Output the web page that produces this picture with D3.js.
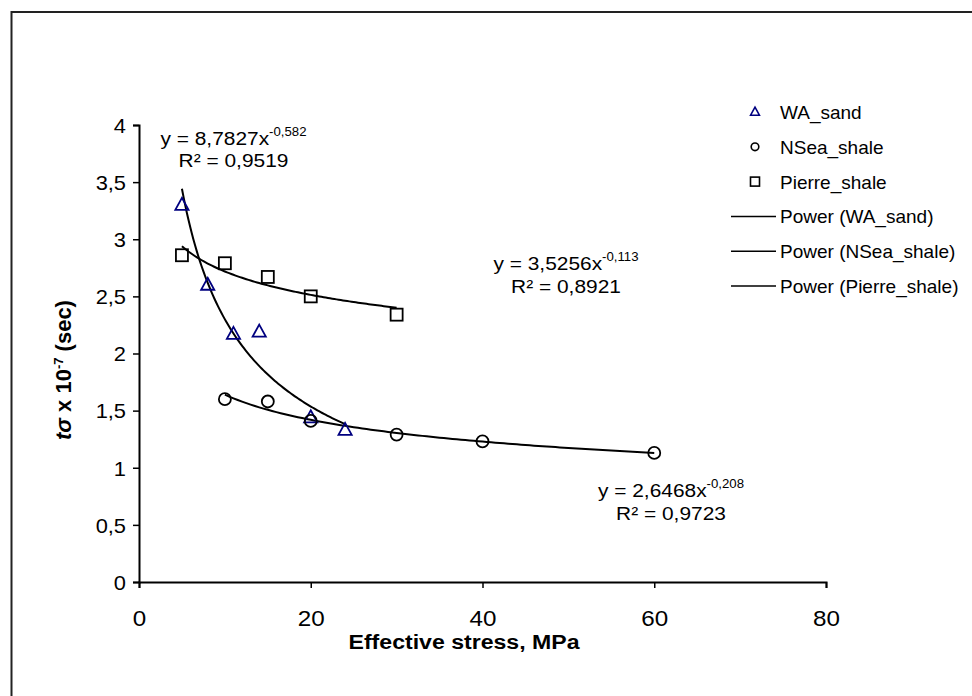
<!DOCTYPE html>
<html><head><meta charset="utf-8">
<script src="https://cdn.jsdelivr.net/npm/d3@7"></script>
<style>html,body{margin:0;padding:0;background:#fff;} svg{display:block;font-family:"Liberation Sans",Arial,sans-serif;}</style>
</head><body>
<svg id="chart" width="972" height="696"></svg>
<script>
// ---- data ----
const seriesNames = ["WA_sand", "NSea_shale", "Pierre_shale"];
const waX = [5, 8, 11, 14, 20, 24];
const waY = [3.30, 2.60, 2.17, 2.19, 1.44, 1.33];
const nseaX = [10, 15, 20, 30, 40, 60];
const nseaY = [1.60, 1.58, 1.41, 1.29, 1.23, 1.13];
const pierreX = [5, 10, 15, 20, 30];
const pierreY = [2.86, 2.79, 2.67, 2.50, 2.34];
// power trendlines y = a * x^b (as printed on the chart)
const fitA = [8.7827, 2.6468, 3.5256];
const fitB = [-0.582, -0.208, -0.113];
const fitAText = ["8,7827", "2,6468", "3,5256"];
const fitBText = ["-0,582", "-0,208", "-0,113"];
const fitR2Text = ["0,9519", "0,9723", "0,8921"];
const xTicks = [0, 20, 40, 60, 80];
const yTicks = [0, 0.5, 1, 1.5, 2, 2.5, 3, 3.5, 4];
const legendLabels = ["WA_sand", "NSea_shale", "Pierre_shale", "Power (WA_sand)", "Power (NSea_shale)", "Power (Pierre_shale)"];

// ---- drawing ----
const svg = d3.select("#chart");
const SX = 1.1; // horizontal text stretch of the original
const x = d3.scaleLinear().domain([0, 80]).range([139, 826]);
const y = d3.scaleLinear().domain([0, 4]).range([582, 125]);

// outer frame
svg.append("rect").attr("x", 11.5).attr("y", 12).attr("width", 1000).attr("height", 760)
  .attr("fill", "none").attr("stroke", "#222").attr("stroke-width", 2);

const fmt = d => String(d).replace(".", ",");

const gx = svg.append("g").attr("transform", `translate(0,${y(0)})`)
  .call(d3.axisBottom(x).tickValues(xTicks).tickFormat(fmt).tickSize(6).tickPadding(6));
const gy = svg.append("g").attr("transform", `translate(${x(0)},0)`)
  .call(d3.axisLeft(y).tickValues(yTicks).tickFormat(fmt).tickSize(6).tickPadding(4));
[gx, gy].forEach(g => {
  g.select(".domain").attr("stroke", "#000").attr("stroke-width", 2);
  g.selectAll(".tick line").attr("stroke", "#000").attr("stroke-width", 1.5);
  g.selectAll(".tick text").attr("fill", "#000").style("font-size", "22px")
    .style("font-family", '"Liberation Sans",Arial,sans-serif');
});
gx.selectAll(".tick text").attr("dy", null).attr("y", 44).attr("transform", `scale(${SX},1)`)
  .attr("x", 0);
gy.selectAll(".tick text").style("font-size", "21px").attr("transform", "scale(1.04,1)")
  .attr("x", -13 / 1.04).attr("dy", "0.35em");

// axis titles
svg.append("text").attr("transform", `translate(464,649) scale(${SX},1)`).attr("text-anchor", "middle")
  .style("font-size", "21px").style("font-weight", "bold").text("Effective stress, MPa");
const yl = svg.append("text").attr("transform", "translate(71,370) rotate(-90)").attr("text-anchor", "middle")
  .style("font-size", "22px").style("font-weight", "bold");
yl.append("tspan").style("font-style", "italic").text("tσ");
yl.append("tspan").text(" x 10");
yl.append("tspan").attr("dy", -8).style("font-size", "13px").text("-7");
yl.append("tspan").attr("dy", 8).text(" (sec)");

// trendlines
const allX = [waX, nseaX, pierreX];
const line = d3.line().x(d => x(d[0])).y(d => y(d[1]));
allX.forEach((xs, i) => {
  const [lo, hi] = d3.extent(xs);
  const pts = d3.range(0, 101).map(k => { const xv = lo + (hi - lo) * k / 100; return [xv, fitA[i] * Math.pow(xv, fitB[i])]; });
  svg.append("path").attr("d", line(pts)).attr("fill", "none").attr("stroke", "#000").attr("stroke-width", 2);
});

// markers
const tri = (s) => `M0,${-s * 0.6}L${s * 0.55},${s * 0.4}L${-s * 0.55},${s * 0.4}Z`;
svg.append("g").selectAll("path").data(d3.zip(waX, waY)).join("path")
  .attr("d", tri(12)).attr("transform", d => `translate(${x(d[0])},${y(d[1])})`)
  .attr("fill", "none").attr("stroke", "#000080").attr("stroke-width", 1.8);
svg.append("g").selectAll("ellipse").data(d3.zip(nseaX, nseaY)).join("ellipse")
  .attr("cx", d => x(d[0])).attr("cy", d => y(d[1])).attr("rx", 6).attr("ry", 6)
  .attr("fill", "none").attr("stroke", "#000").attr("stroke-width", 1.8);
svg.append("g").selectAll("rect").data(d3.zip(pierreX, pierreY)).join("rect")
  .attr("x", d => x(d[0]) - 6).attr("y", d => y(d[1]) - 6).attr("width", 12).attr("height", 12)
  .attr("fill", "none").attr("stroke", "#000").attr("stroke-width", 1.8);

// equation labels
const eqPos = [[233.5, 144.5], [671, 497], [566, 270]];
eqPos.forEach((p, i) => {
  const g = svg.append("g").attr("transform", `translate(${p[0]},${p[1]}) scale(${SX},1)`);
  const t1 = g.append("text").attr("text-anchor", "middle").style("font-size", "19px");
  t1.append("tspan").text(`y = ${fitAText[i]}x`);
  t1.append("tspan").attr("dy", -9).style("font-size", "12px").text(fitBText[i]);
  g.append("text").attr("text-anchor", "middle").attr("y", 23).style("font-size", "19px")
    .text(`R² = ${fitR2Text[i]}`);
});

// legend
const lg = svg.append("g");
legendLabels.forEach((lab, i) => {
  const cy = 112 + i * 34.8;
  if (i === 0) lg.append("path").attr("d", tri(8)).attr("transform", `translate(755,${cy})`)
    .attr("fill", "none").attr("stroke", "#000080").attr("stroke-width", 1.6);
  else if (i === 1) lg.append("circle").attr("cx", 755).attr("cy", cy).attr("r", 3.8)
    .attr("fill", "none").attr("stroke", "#000").attr("stroke-width", 1.6);
  else if (i === 2) lg.append("rect").attr("x", 750.5).attr("y", cy - 4.5).attr("width", 9).attr("height", 9)
    .attr("fill", "none").attr("stroke", "#000").attr("stroke-width", 1.6);
  else lg.append("line").attr("x1", 731).attr("x2", 776).attr("y1", cy).attr("y2", cy)
    .attr("stroke", "#000").attr("stroke-width", 1.5);
  lg.append("text").attr("x", 780).attr("y", cy + 7).style("font-size", "19px").text(lab);
});
</script>
</body></html>
